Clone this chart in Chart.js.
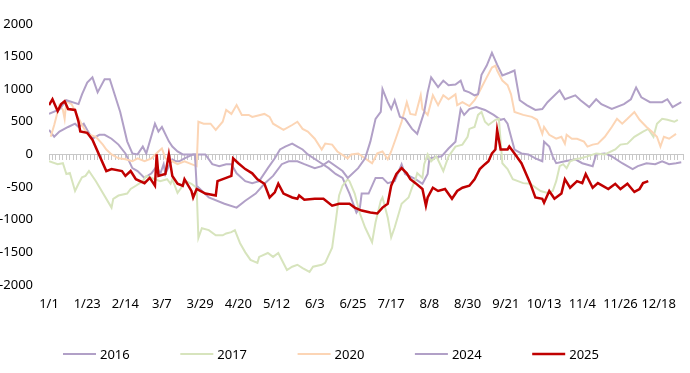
<!DOCTYPE html>
<html>
<head>
<meta charset="utf-8">
<script src="https://cdn.jsdelivr.net/npm/chart.js@4.4.0/dist/chart.umd.min.js"></script>
<style>
  html, body { margin: 0; padding: 0; background: #fff; }
</style>
</head>
<body>
<canvas id="chart" width="690" height="373"></canvas>
<script>
// x values are day-of-year (0 = 1/1)
var tickDays = [0, 22, 44, 65, 87, 109, 131, 153, 175, 197, 219, 241, 263, 285, 307, 329, 351];
var tickLabels = ['1/1', '1/23', '2/14', '3/7', '3/29', '4/20', '5/12', '6/3', '6/25', '7/17', '8/8', '8/30', '9/21', '10/13', '11/4', '11/26', '12/18'];

var seriesNames = ['2016', '2017', '2020', '2024', '2025'];

var days16 = [0,3,6,11,15,17,20,22,25,29,32,36,40,44,48,51,55,59,62,64,66,67,69,71,73,75,78,83,88,90,94,98,102,105,108,113,117,121,126,130,133,136,140,143,146,149,155,161,165,169,173,177,179,180,184,188,192,195,199,203,205,211,215,218,219,226,230,234,237,239,242,246,251,256,260,262,264,266,268,272,276,280,284,285,288,290,292,297,303,307,313,315,320,324,330,333,336,339,344,349,353,357,361,364];
var vals16 = [375,270,350,420,470,420,470,375,240,300,300,240,150,15,-210,-255,-360,-290,-180,-300,-150,-300,-180,-75,-105,-105,-60,0,0,0,-150,-180,-150,-150,-290,-410,-440,-410,-210,-60,75,120,165,120,75,0,-105,-210,-300,-360,-600,-890,-815,-600,-600,-360,-360,-440,-410,-150,-300,-380,-450,-300,-60,-30,90,195,695,605,695,725,680,605,530,545,470,270,75,15,0,-60,-105,195,120,-30,-135,-105,-75,-135,-180,0,15,-30,-135,-180,-225,-180,-135,-150,-105,-150,-135,-120];

var days17 = [0,5,8,10,12,15,17,19,21,23,27,36,37,40,45,47,50,54,56,61,64,68,70,71,74,77,79,82,85,86,88,92,96,100,102,105,107,110,113,116,120,121,126,129,132,137,140,143,146,150,152,157,159,163,165,167,169,172,173,176,179,182,186,188,191,192,195,197,199,203,207,209,211,212,215,216,218,220,223,227,230,234,238,241,242,245,247,249,251,253,257,259,261,264,267,273,277,283,287,290,292,294,296,298,300,303,306,310,315,320,326,329,333,337,342,345,348,350,353,356,360,362];
var vals17 = [-105,-150,-135,-300,-285,-560,-450,-350,-330,-255,-410,-815,-680,-630,-600,-530,-480,-410,-330,-380,-410,-380,-450,-380,-590,-480,-410,-450,-510,-1280,-1130,-1160,-1240,-1240,-1210,-1190,-1160,-1360,-1500,-1615,-1660,-1570,-1510,-1570,-1510,-1770,-1720,-1690,-1740,-1800,-1720,-1690,-1660,-1430,-1040,-630,-480,-380,-410,-600,-905,-1120,-1345,-1040,-710,-660,-965,-1270,-1120,-755,-660,-510,-380,-285,-360,-150,0,-105,-30,-255,-30,120,150,270,390,420,605,650,500,450,530,545,-135,-225,-380,-440,-450,-560,-590,-560,-410,-180,-150,-210,-105,-75,-60,-30,15,0,75,150,165,270,350,390,270,470,545,530,500,530];

var days20 = [1,3,6,8,9,10,13,19,22,27,31,33,36,40,44,48,51,55,59,63,65,67,71,74,78,82,85,86,89,93,96,100,102,105,108,111,115,117,121,124,127,129,135,140,143,146,149,153,157,159,163,166,172,174,178,182,186,189,192,195,197,200,203,206,208,211,214,215,218,221,224,227,230,234,235,238,242,245,247,249,252,255,257,258,261,264,266,268,273,278,281,284,285,288,292,295,297,298,301,304,308,310,313,316,320,324,327,330,333,337,340,344,347,350,352,354,357,361];
var vals20 = [270,450,755,680,545,815,770,450,315,270,150,75,0,-60,-75,-105,-60,-105,-60,45,90,-60,-105,-150,-105,-150,-180,500,470,470,375,500,680,620,755,605,605,575,600,620,575,470,375,450,500,390,350,240,75,165,150,45,-60,0,15,-60,-135,15,45,-75,45,270,500,800,620,605,905,695,605,905,755,905,845,920,755,800,740,830,920,1025,1180,1330,1360,1285,1130,1060,920,650,605,575,530,315,420,300,240,270,165,300,240,240,195,120,150,165,270,420,545,470,545,650,530,420,350,270,120,270,240,315];

var days24 = [0,6,10,17,19,22,25,28,32,35,41,45,48,51,54,56,61,63,65,69,71,74,77,81,84,85,92,101,108,113,119,124,129,134,138,143,147,153,157,161,169,172,178,182,185,188,191,192,195,197,199,202,205,209,212,216,218,220,224,227,230,234,237,239,242,245,247,249,252,255,258,261,265,268,271,275,280,284,287,294,297,303,306,311,315,318,324,331,335,338,341,346,353,356,359,364];
var vals24 = [620,690,830,770,920,1100,1180,950,1150,1150,650,200,15,0,120,15,470,350,420,200,120,45,0,0,0,-480,-660,-755,-815,-710,-600,-450,-330,-150,-105,-105,-150,-210,-180,-105,-255,-360,-210,-60,195,545,650,1000,800,695,830,575,545,390,315,650,950,1180,1030,1130,1060,1070,1130,980,950,905,920,1220,1360,1555,1375,1210,1250,1285,830,755,680,695,800,980,845,905,830,725,845,770,695,770,845,1025,875,800,800,845,725,800];

var days25 = [0,2,5,7,9,11,15,17,18,22,25,33,36,42,44,47,50,55,58,61,62,63,67,69,71,74,77,78,82,83,85,90,96,97,102,105,106,109,113,117,120,124,127,130,132,135,140,143,144,147,153,158,163,167,173,176,180,185,189,192,195,197,200,203,206,208,211,215,217,218,221,224,228,232,235,238,242,245,248,251,253,255,257,258,260,264,265,268,272,277,280,284,285,288,291,295,297,300,304,307,309,313,316,322,326,329,333,337,340,342,345];
var vals25 = [755,845,665,770,815,695,680,500,350,330,225,-255,-225,-255,-330,-255,-380,-440,-360,-480,0,-330,-300,0,-330,-450,-480,-380,-560,-660,-530,-600,-630,-410,-360,-330,-60,-135,-225,-290,-380,-450,-660,-580,-450,-600,-660,-680,-630,-695,-680,-680,-785,-755,-755,-815,-860,-890,-905,-815,-755,-480,-300,-210,-290,-380,-440,-530,-785,-660,-510,-560,-530,-680,-560,-510,-480,-380,-225,-150,-105,15,75,375,75,75,120,15,-135,-440,-660,-680,-740,-560,-680,-600,-380,-510,-410,-440,-300,-510,-440,-530,-450,-530,-450,-575,-530,-440,-410];

var colors = ['#b1a0c7', '#d7e4bd', '#fcd5b5', '#b1a0c7', '#c00000'];
var widths = [2, 2, 2, 2, 2.5];
var allDays = [days16, days17, days20, days24, days25];
var allVals = [vals16, vals17, vals20, vals24, vals25];

function pairs(d, v) {
  return d.map(function (x, i) { return { x: x, y: v[i] }; });
}

var datasets = seriesNames.map(function (name, i) {
  return {
    label: name,
    data: pairs(allDays[i], allVals[i]),
    borderColor: colors[i],
    borderWidth: widths[i],
    pointRadius: 0,
    tension: 0,
    fill: false,
    order: 5 - i
  };
});

// legend drawn by hand so the spacing matches the original
var bottomLegend = {
  id: 'bottomLegend',
  afterDraw: function (chart) {
    var c = chart.ctx;
    c.save();
    c.font = "13px 'Noto Sans', sans-serif";
    c.textBaseline = 'middle';
    c.fillStyle = '#000';
    chart.data.datasets.forEach(function (ds, i) {
      var x = 63 + i * 117.3;
      var y = 354;
      c.strokeStyle = ds.borderColor;
      c.lineWidth = ds.borderWidth;
      c.beginPath();
      c.moveTo(x, y);
      c.lineTo(x + 33, y);
      c.stroke();
      c.fillText(ds.label, x + 37, y + 1);
    });
    c.restore();
  }
};

Chart.defaults.font.family = "'Noto Sans', sans-serif";
Chart.defaults.font.size = 13;
Chart.defaults.color = '#000';

var ctx = document.getElementById('chart').getContext('2d');

var chart = new Chart(ctx, {
  type: 'line',
  data: { datasets: datasets },
  options: {
    responsive: false,
    animation: false,
    layout: { padding: { top: 20, right: 7, left: 0, bottom: 0 } },
    plugins: { legend: { display: false }, tooltip: { enabled: false } },
    scales: {
      x: {
        type: 'linear', min: 0, max: 365,
        grid: { display: false, drawTicks: false },
        border: { display: false },
        ticks: {
          autoSkip: false, maxRotation: 0, padding: 11,
          callback: function (v, i) { return tickLabels[i]; }
        },
        afterBuildTicks: function (s) { s.ticks = tickDays.map(function (d) { return { value: d }; }); },
        afterFit: function (s) { s.height = 88; }
      },
      x0: {
        axis: 'x', type: 'linear', min: 0, max: 365,
        position: { y: 0 },
        ticks: { display: false, stepSize: 2 },
        grid: { drawOnChartArea: false, drawTicks: true, tickLength: 5, color: '#c8c8c8' },
        border: { color: '#c8c8c8' }
      },
      y: {
        min: -2000, max: 2000,
        ticks: { stepSize: 500, padding: 16, callback: function (v) { return String(v); } },
        grid: { display: false, drawTicks: false },
        border: { display: false },
        afterFit: function (s) { s.width = 49; }
      }
    }
  },
  plugins: [bottomLegend]
});
</script>
</body>
</html>
